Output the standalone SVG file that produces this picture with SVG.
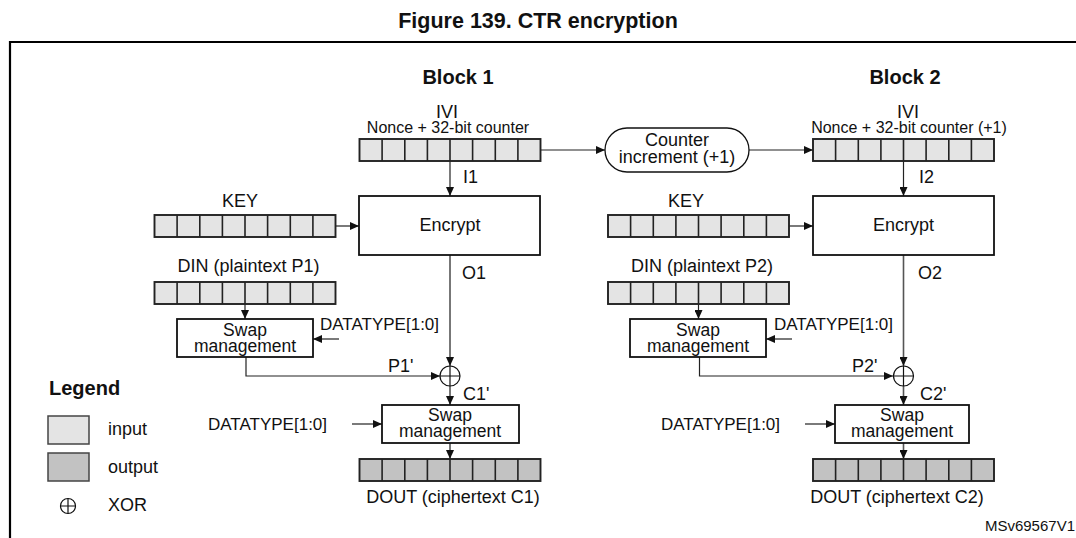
<svg xmlns="http://www.w3.org/2000/svg" xmlns:xlink="http://www.w3.org/1999/xlink" width="1076" height="538" viewBox="0 0 1076 538">
<style>
text{font-family:"Liberation Sans",Arial,sans-serif;fill:#111;}
.t{font-size:18px;}
.tm{text-anchor:middle;}
.sw{font-size:17.5px;}
.s16{font-size:16px;}
.s17{font-size:17px;}
.b{font-weight:bold;}
.box{fill:#fff;stroke:#111;stroke-width:1.8;}
.conA{fill:none;stroke:#222;stroke-width:1.2;marker-end:url(#ah);}
.og{fill:none;stroke:#555;stroke-width:1.6;marker-end:url(#ah);}
.xor{fill:#fff;stroke:#111;stroke-width:1.2;}
.frame{fill:none;stroke:#000;stroke-width:2.2;}
</style>
<defs>
<marker id="ah" markerUnits="userSpaceOnUse" markerWidth="9" markerHeight="8" refX="9" refY="4" orient="auto">
<path d="M0,0 L9,4 L0,8 z" fill="#111"/>
</marker>
<g id="cells">
<path d="M22.6 0V22M45.3 0V22M67.9 0V22M90.5 0V22M113.1 0V22M135.8 0V22M158.4 0V22" stroke="#222" stroke-width="1.6" fill="none"/>
</g>
<g id="regIn">
<rect x="0" y="0" width="181" height="22" fill="#e4e4e4" stroke="#222" stroke-width="1.9"/>
<use xlink:href="#cells"/>
</g>
<g id="regOut">
<rect x="0" y="0" width="181" height="22" fill="#c2c2c2" stroke="#222" stroke-width="1.9"/>
<use xlink:href="#cells"/>
</g>
<g id="xorSym">
<circle cx="0" cy="0" r="10" class="xor"/>
<path d="M-10 0H10M0 -10V10" stroke="#111" stroke-width="1.2"/>
</g>
</defs>

<text x="538" y="28" class="b tm" style="font-size:21.5px">Figure 139. CTR encryption</text>
<path class="frame" d="M10 538V42H1076"/>

<g id="headers">
<text x="458" y="84" class="b tm" style="font-size:20px">Block 1</text>
<text x="905" y="84" class="b tm" style="font-size:20px">Block 2</text>
</g>

<g id="connectors">
<path class="conA" d="M540 150H605"/>
<path class="conA" d="M749 150H813"/>
<path class="conA" d="M450 161V196"/>
<path class="conA" d="M903.5 161V196"/>
<path class="conA" d="M336 226H359"/>
<path class="conA" d="M789 226H813"/>
<path class="conA" d="M245 303V319"/>
<path class="conA" d="M698.5 303V319"/>
<path class="conA" d="M339 339H313"/>
<path class="conA" d="M792 339H766"/>
<path class="conA" d="M246 357V376H440"/>
<path class="conA" d="M699.5 357V376H893"/>
<path class="og" d="M450 255V366"/>
<path class="og" d="M903.5 255V366"/>
<path class="og" d="M450 386V405"/>
<path class="og" d="M903.5 386V405"/>
<path class="conA" d="M352 424H382"/>
<path class="conA" d="M805 424H835"/>
<path class="og" d="M450 443V459"/>
<path class="og" d="M903.5 443V459"/>
</g>

<g id="ivi1">
<text x="447" y="118" class="t tm">IVI</text>
<text x="448" y="133" class="s16 tm">Nonce + 32-bit counter</text>
<use xlink:href="#regIn" x="359.5" y="139"/>
<text x="463" y="183" class="t">I1</text>
</g>
<g id="ivi2">
<text x="908" y="118" class="t tm">IVI</text>
<text x="909" y="133" class="s16 tm">Nonce + 32-bit counter (+1)</text>
<use xlink:href="#regIn" x="813" y="139"/>
<text x="919" y="183" class="t">I2</text>
</g>
<g id="counter">
<rect x="605" y="128" width="144" height="44" rx="22" ry="22" fill="#fff" stroke="#111" stroke-width="1.3"/>
<text x="677" y="146" class="t tm">Counter</text>
<text x="677" y="163" class="t tm">increment (+1)</text>
</g>

<g id="key1">
<text x="240" y="207" class="t tm">KEY</text>
<use xlink:href="#regIn" x="154.5" y="215"/>
</g>
<g id="key2">
<text x="686" y="207" class="t tm">KEY</text>
<use xlink:href="#regIn" x="608" y="215"/>
</g>

<g id="encrypt1">
<rect x="359" y="196" width="181" height="59" class="box"/>
<text x="450" y="231" class="t tm">Encrypt</text>
<text x="462" y="279" class="t">O1</text>
</g>
<g id="encrypt2">
<rect x="813" y="196" width="181" height="59" class="box"/>
<text x="903.5" y="231" class="t tm">Encrypt</text>
<text x="918" y="279" class="t">O2</text>
</g>

<g id="din1">
<text x="248.5" y="272" class="t tm">DIN (plaintext P1)</text>
<use xlink:href="#regIn" x="154.5" y="282"/>
</g>
<g id="din2">
<text x="702" y="272" class="t tm">DIN (plaintext P2)</text>
<use xlink:href="#regIn" x="608" y="282"/>
</g>

<g id="swapIn1">
<rect x="177" y="319" width="136" height="38" class="box"/>
<text x="245" y="336" class="sw tm">Swap</text>
<text x="245" y="352" class="sw tm">management</text>
<text x="320" y="330" class="s17">DATATYPE[1:0]</text>
</g>
<g id="swapIn2">
<rect x="630" y="319" width="136" height="38" class="box"/>
<text x="698" y="336" class="sw tm">Swap</text>
<text x="698" y="352" class="sw tm">management</text>
<text x="774" y="330" class="s17">DATATYPE[1:0]</text>
</g>

<g id="xor1">
<use xlink:href="#xorSym" x="450" y="376"/>
<text x="388" y="372" class="t">P1'</text>
<text x="463" y="400" class="t">C1'</text>
</g>
<g id="xor2">
<use xlink:href="#xorSym" x="903.5" y="376"/>
<text x="852" y="372" class="t">P2'</text>
<text x="920" y="400" class="t">C2'</text>
</g>

<g id="swapOut1">
<rect x="382" y="405" width="137" height="38" class="box"/>
<text x="450" y="421" class="sw tm">Swap</text>
<text x="450" y="437" class="sw tm">management</text>
<text x="208" y="430" class="s17">DATATYPE[1:0]</text>
</g>
<g id="swapOut2">
<rect x="835" y="405" width="134" height="38" class="box"/>
<text x="902" y="421" class="sw tm">Swap</text>
<text x="902" y="437" class="sw tm">management</text>
<text x="661" y="430" class="s17">DATATYPE[1:0]</text>
</g>

<g id="dout1">
<use xlink:href="#regOut" x="359.5" y="459"/>
<text x="453" y="503" class="t tm">DOUT (ciphertext C1)</text>
</g>
<g id="dout2">
<use xlink:href="#regOut" x="813" y="459"/>
<text x="897" y="503" class="t tm">DOUT (ciphertext C2)</text>
</g>

<g id="legend">
<text x="49" y="395" class="b" style="font-size:20px">Legend</text>
<rect x="48" y="416" width="41" height="28" fill="#e4e4e4" stroke="#444" stroke-width="1.5"/>
<text x="108" y="435" class="t">input</text>
<rect x="48" y="453" width="41" height="28" fill="#c2c2c2" stroke="#444" stroke-width="1.5"/>
<text x="108" y="473" class="t">output</text>
<circle cx="68" cy="506" r="7.5" fill="none" stroke="#111" stroke-width="1.2"/>
<path d="M60.5 506H75.5M68 498.5V513.5" stroke="#111" stroke-width="1.2"/>
<text x="108" y="511" class="t">XOR</text>
</g>

<text x="1075" y="531" style="font-size:15px;text-anchor:end">MSv69567V1</text>
</svg>
